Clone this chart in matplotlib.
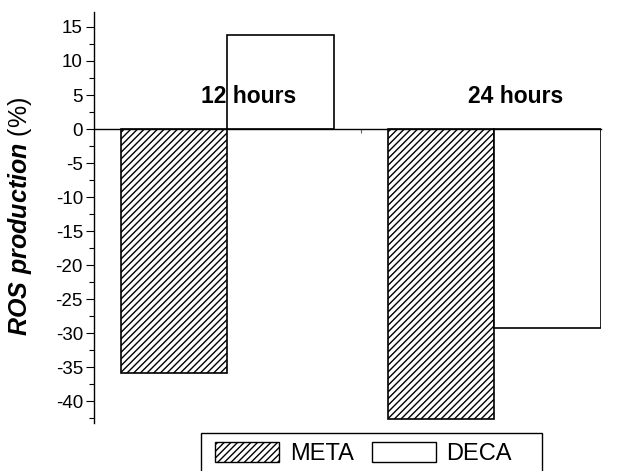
import matplotlib
matplotlib.use("Agg")
import matplotlib.pyplot as plt
from matplotlib.patches import Patch, Rectangle
from matplotlib.ticker import MultipleLocator
import numpy as np

plt.rcParams['font.family'] = ['Liberation Sans', 'DejaVu Sans']
plt.rcParams['mathtext.fontset'] = 'custom'
plt.rcParams['mathtext.bf'] = 'Liberation Sans:italic:bold'
plt.rcParams['mathtext.rm'] = 'Liberation Sans'
plt.rcParams['axes.unicode_minus'] = False
plt.rcParams['hatch.linewidth'] = 1.0

# ROS production relative to control (%)
groups = ["12 hours", "24 hours"]
series = ["META", "DECA"]
meta = [-35.9, -42.6]
deca = [13.8, -29.2]

fig = plt.figure(figsize=(6.24, 4.71), dpi=100)
ax = fig.add_axes([94/624, 1 - 423/471, (601 - 94)/624, (423 - 12)/471])

x = np.arange(len(groups))
w = 0.4
ax.bar(x - w, meta, width=w, align='edge', facecolor='white',
       edgecolor='black', hatch='/////', linewidth=1.2)
ax.bar(x, deca, width=w, align='edge', facecolor='white',
       edgecolor='black', linewidth=1.2)

for xi, g in zip(x, groups):
    ax.text(xi + 0.08, 3.8, g, ha='center', va='baseline',
            fontsize=16.5, fontweight='bold')

ax.set_xlim(-0.5, 1.4)
ax.set_ylim(-43.2, 17.2)

ax.spines['top'].set_visible(False)
ax.spines['right'].set_visible(False)
ax.spines['bottom'].set_position(('data', 0))
ax.spines['bottom'].set_linewidth(1.0)
ax.spines['left'].set_linewidth(1.0)

ax.yaxis.set_major_locator(MultipleLocator(5))
ax.yaxis.set_minor_locator(MultipleLocator(2.5))
ax.tick_params(axis='y', which='major', length=6, width=0.8, labelsize=13.5, pad=2)
ax.tick_params(axis='y', which='minor', length=3.5, width=0.8)
ax.set_xticks([0.5])
ax.set_xticklabels([])
ax.tick_params(axis='x', which='major', length=3, width=0.8, color='0.4')

fig.text(20/624, 1 - 216/471, r'$\mathbf{ROS\ production}$ (%)',
         rotation=90, ha='center', va='center', fontsize=18)

handles = [Patch(facecolor='white', edgecolor='black', hatch='/////', linewidth=1.0),
           Patch(facecolor='white', edgecolor='black', linewidth=1.0)]
leg = fig.legend(handles, series, loc='upper left',
                 bbox_to_anchor=(208/624, 1 - 435/471), ncol=2, frameon=False,
                 fontsize=17, handlelength=2.71, handleheight=0.93,
                 handletextpad=0.47, columnspacing=0.76, borderpad=0.28,
                 borderaxespad=0)
fig.patches.append(Rectangle((201/624, -0.05), (542 - 201)/624, (1 - 433/471) + 0.05,
                             transform=fig.transFigure, facecolor='none',
                             edgecolor='black', linewidth=1.0))

fig.savefig('out.png', dpi=100)
